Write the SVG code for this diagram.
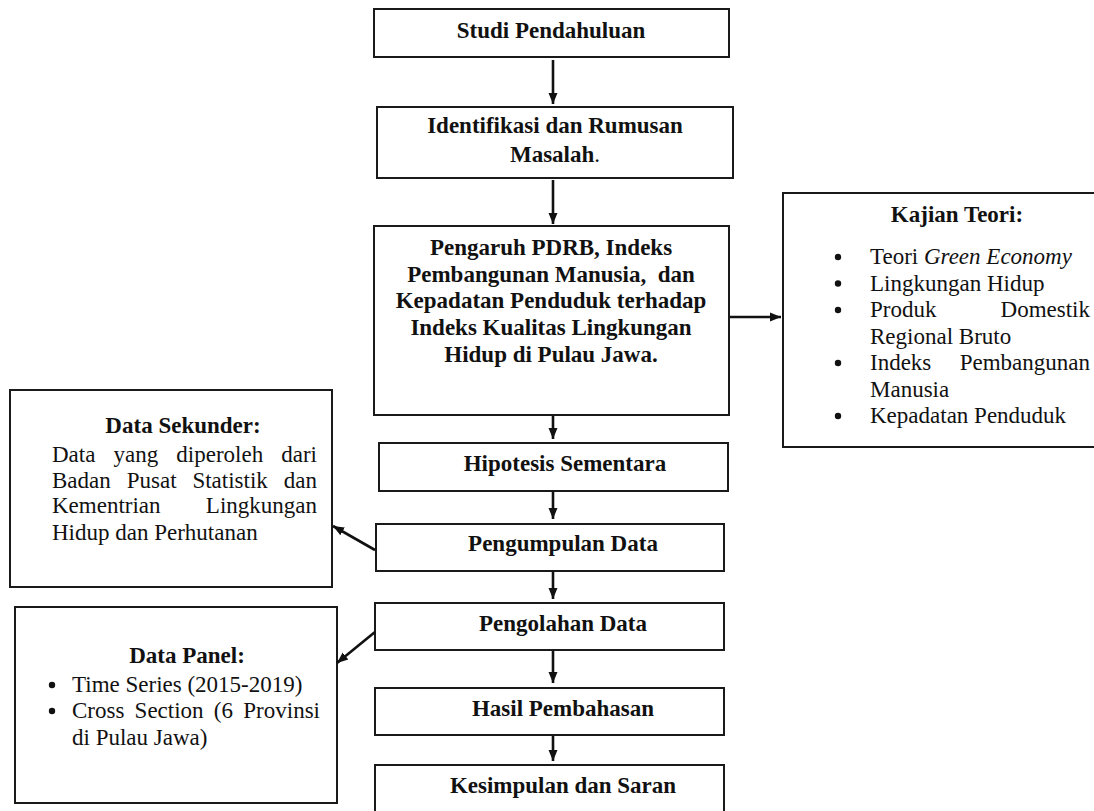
<svg xmlns="http://www.w3.org/2000/svg" width="1094" height="811" viewBox="0 0 1094 811">
<style>
.box{fill:#fff;stroke:#1a1a1a;stroke-width:2}
.b{font-family:"Liberation Serif","Times New Roman",serif;font-weight:bold;font-size:23px;fill:#111}
.r{font-family:"Liberation Serif","Times New Roman",serif;font-size:23px;fill:#111}
.c{text-anchor:middle}
.e{text-anchor:end}
.con{stroke:#111;stroke-width:2.6;fill:none;marker-end:url(#ah)}
</style>
<defs>
<marker id="ah" markerUnits="userSpaceOnUse" markerWidth="12" markerHeight="12" viewBox="0 0 12 12" refX="11" refY="6" orient="auto">
<path d="M0,1.5 L11,6 L0,10.5 Z" fill="#111"/>
</marker>
</defs>
<rect width="1094" height="811" fill="#fff"/>
<g id="studi"><rect class="box" x="374" y="9" width="355" height="48"/><text class="b c" x="551" y="38">Studi Pendahuluan</text></g>
<g id="identifikasi"><rect class="box" x="377" y="107" width="356" height="71"/><text class="b c" x="555" y="133">Identifikasi dan Rumusan</text><text class="b c" x="555" y="162">Masalah<tspan font-weight="normal">.</tspan></text></g>
<g id="pengaruh"><rect class="box" x="374" y="226" width="355" height="189"/>
<text class="b c" x="551" y="255">Pengaruh PDRB, Indeks</text>
<text class="b c" x="551" y="282" xml:space="preserve">Pembangunan Manusia,  dan</text>
<text class="b c" x="551" y="308">Kepadatan Penduduk terhadap</text>
<text class="b c" x="551" y="335">Indeks Kualitas Lingkungan</text>
<text class="b c" x="551" y="362">Hidup di Pulau Jawa.</text></g>
<g id="kajian"><rect class="box" x="783" y="193" width="320" height="254"/>
<text class="b c" x="957" y="222">Kajian Teori:</text>
<g fill="#111"><circle cx="838" cy="257" r="3.2"/><circle cx="838" cy="283.5" r="3.2"/><circle cx="838" cy="310" r="3.2"/><circle cx="838" cy="363" r="3.2"/><circle cx="838" cy="416" r="3.2"/></g>
<text class="r" x="870" y="264">Teori <tspan font-style="italic">Green Economy</tspan></text>
<text class="r" x="870" y="290.5">Lingkungan Hidup</text>
<text class="r" x="870" y="317">Produk</text><text class="r e" x="1090" y="317">Domestik</text>
<text class="r" x="870" y="343.5">Regional Bruto</text>
<text class="r" x="870" y="370">Indeks</text><text class="r e" x="1090" y="370">Pembangunan</text>
<text class="r" x="870" y="396.5">Manusia</text>
<text class="r" x="870" y="423">Kepadatan Penduduk</text></g>
<g id="hipotesis"><rect class="box" x="379" y="443" width="349" height="48"/><text class="b c" x="565" y="471">Hipotesis Sementara</text></g>
<g id="pengumpulan"><rect class="box" x="376" y="524" width="348" height="47"/><text class="b c" x="563" y="551">Pengumpulan Data</text></g>
<g id="sekunder"><rect class="box" x="10" y="390" width="322" height="197"/>
<text class="b c" x="183" y="433">Data Sekunder:</text>
<text class="r" y="462"><tspan x="52">Data</tspan><tspan x="113.5">yang</tspan><tspan x="176.3">diperoleh</tspan></text><text class="r e" x="317" y="462">dari</text>
<text class="r" y="488"><tspan x="52">Badan</tspan><tspan x="126.7">Pusat</tspan><tspan x="192.4">Statistik</tspan></text><text class="r e" x="317" y="488">dan</text>
<text class="r" x="52" y="513">Kementrian</text><text class="r e" x="317" y="513">Lingkungan</text>
<text class="r" x="52" y="540">Hidup dan Perhutanan</text></g>
<g id="pengolahan"><rect class="box" x="375" y="603" width="349" height="47"/><text class="b c" x="563" y="631">Pengolahan Data</text></g>
<g id="panel"><rect class="box" x="15" y="607" width="322" height="196"/>
<text class="b c" x="187" y="663">Data Panel:</text>
<g fill="#111"><circle cx="52" cy="685" r="3.2"/><circle cx="52" cy="711" r="3.2"/></g>
<text class="r" x="72" y="692">Time Series (2015-2019)</text>
<text class="r" y="718"><tspan x="72">Cross</tspan><tspan x="134.6">Section</tspan><tspan x="213.8">(6</tspan></text><text class="r e" x="320" y="718">Provinsi</text>
<text class="r" x="72" y="745">di Pulau Jawa)</text></g>
<g id="hasil"><rect class="box" x="375" y="688" width="349" height="47"/><text class="b c" x="563" y="716">Hasil Pembahasan</text></g>
<g id="kesimpulan"><rect class="box" x="375" y="765" width="349" height="60"/><text class="b c" x="563" y="793">Kesimpulan dan Saran</text></g>
<g id="connectors">
<line class="con" x1="553" y1="60" x2="553" y2="104"/>
<line class="con" x1="553" y1="180" x2="553" y2="224"/>
<line class="con" x1="553" y1="416" x2="553" y2="439"/>
<line class="con" x1="553" y1="492" x2="553" y2="519"/>
<line class="con" x1="553" y1="572" x2="553" y2="599"/>
<line class="con" x1="553" y1="651" x2="553" y2="683"/>
<line class="con" x1="553" y1="736" x2="553" y2="761"/>
<line class="con" x1="730" y1="317" x2="781" y2="317"/>
<line class="con" x1="375" y1="550" x2="333" y2="526"/>
<line class="con" x1="375" y1="632" x2="337" y2="663"/>
</g>
</svg>
